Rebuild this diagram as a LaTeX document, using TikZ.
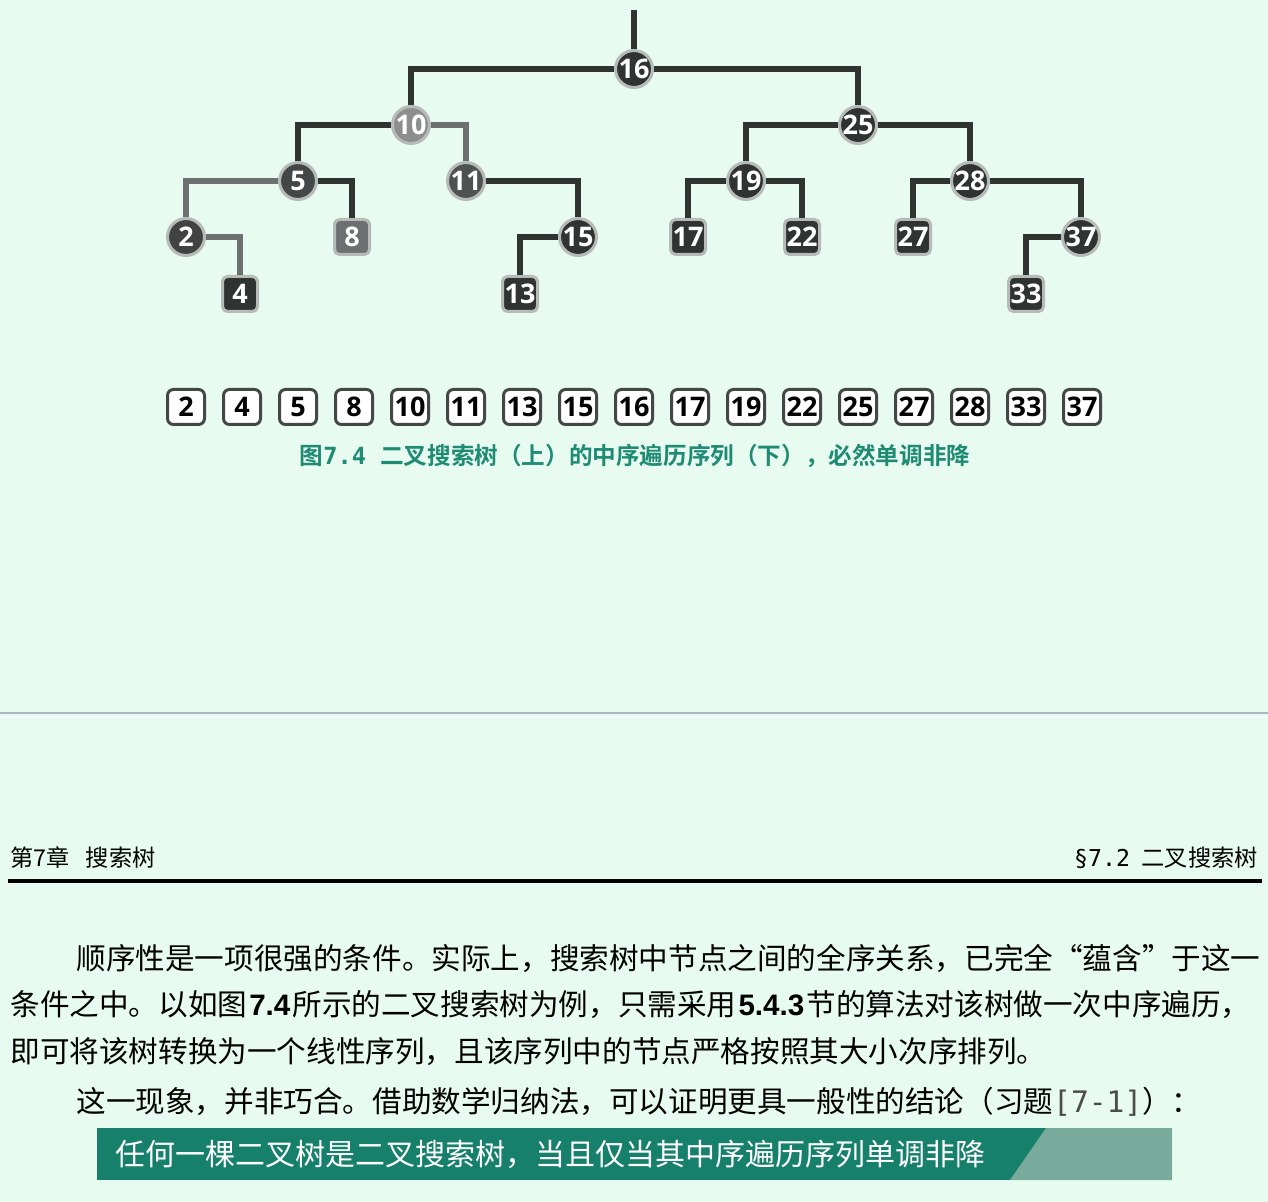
\documentclass[tikz,border=0pt]{standalone}
\usepackage{fontspec}
\setmainfont{Noto Sans CJK SC}[BoldFont={Noto Sans CJK SC Bold}]
\newfontfamily\cjk{Noto Sans CJK SC}[BoldFont={Noto Sans CJK SC Bold}]
\newfontfamily\numfont{Open Sans}
\newfontfamily\mono{DejaVu Sans Mono}
\newfontfamily\latn{Liberation Sans}
\definecolor{bg}{HTML}{E7FBF0}
\definecolor{ink}{HTML}{2F3332}
\definecolor{ring}{HTML}{B6BAB9}
\definecolor{teal}{HTML}{1F8B73}
\definecolor{banner}{HTML}{16806A}
\definecolor{bannertex}{HTML}{78AB9B}
\definecolor{sep}{HTML}{A8B9C6}
\tikzset{
  edge/.style={draw=ink, line width=2.6pt},
  edgelight/.style={draw=ink!70!white, line width=2.6pt},
  cnode/.style={circle, fill=ink, draw=ring, line width=1.5pt, minimum size=18.5pt,
     inner sep=0pt, text=white, font=\numfont\bfseries\fontsize{13.5}{13.5}\selectfont},
  snode/.style={rectangle, rounded corners=2.5pt, fill=ink, draw=ring, line width=1.5pt,
     minimum size=17.5pt, inner sep=0pt, text=white, font=\numfont\bfseries\fontsize{13.5}{13.5}\selectfont},
  seqbox/.style={rectangle, rounded corners=3pt, fill=white, draw=ink!90, line width=1.5pt,
     minimum width=18.5pt, minimum height=17.5pt, inner sep=0pt, text=black,
     font=\numfont\bfseries\fontsize{13.5}{13.5}\selectfont},
  body/.style={inner sep=0pt, font=\cjk\fontsize{14.8}{16}\selectfont, text=black},
}
\begin{document}
\begin{tikzpicture}[x=0.5pt,y=-0.5pt]
\fill[bg] (0,0) rectangle (1268,1202);
\useasboundingbox (0,0) rectangle (1268,1202);

% tree nodes
\coordinate (top) at (634,10);
\node[cnode] (n16) at (634,69) {16};
\node[cnode, fill=ink!55!white] (n10) at (411,125) {10};
\node[cnode] (n25) at (858,125) {25};
\node[cnode, fill=ink!90!white] (n5) at (298,181) {5};
\node[cnode, fill=ink!85!white] (n11) at (466,181) {11};
\node[cnode] (n19) at (746,181) {19};
\node[cnode] (n28) at (970,181) {28};
\node[cnode, fill=ink!92!white] (n2) at (186,237) {2};
\node[snode, fill=ink!70!white] (n8) at (352,237) {8};
\node[cnode] (n15) at (578,237) {15};
\node[snode] (n17) at (688,237) {17};
\node[snode] (n22) at (802,237) {22};
\node[snode] (n27) at (913,237) {27};
\node[cnode] (n37) at (1081,237) {37};
\node[snode] (n4) at (240,294) {4};
\node[snode] (n13) at (520,294) {13};
\node[snode] (n33) at (1026,294) {33};

% tree edges
\draw[edge] (top) -- (n16);
\draw[edge] (n16) -| (n10);
\draw[edge] (n16) -| (n25);
\draw[edge] (n10) -| (n5);
\draw[edgelight] (n10) -| (n11);
\draw[edgelight] (n5) -| (n2);
\draw[edge] (n5) -| (n8);
\draw[edgelight] (n2) -| (n4);
\draw[edge] (n11) -| (n15);
\draw[edge] (n15) -| (n13);
\draw[edge] (n25) -| (n19);
\draw[edge] (n25) -| (n28);
\draw[edge] (n19) -| (n17);
\draw[edge] (n19) -| (n22);
\draw[edge] (n28) -| (n27);
\draw[edge] (n28) -| (n37);
\draw[edge] (n37) -| (n33);

% in-order sequence
\foreach \v [count=\i from 0] in {2,4,5,8,10,11,13,15,16,17,19,22,25,27,28,33,37} {
  \node[seqbox] (s\i) at ({186+56*\i},407) {\v};
}

% caption
\node[inner sep=0pt, text=teal, font=\cjk\bfseries\fontsize{11.8}{12}\selectfont] (cap) at (635,456)
  {图{\mono\bfseries 7.4 }二叉搜索树（上）的中序遍历序列（下），必然单调非降};

% separator
\coordinate (sepL) at (0,713);
\coordinate (sepR) at (1268,713);
\draw[sep, line width=1.2pt] (sepL) -- (sepR);
\coordinate (sepL2) at (0,717);
\coordinate (sepR2) at (1268,717);
\draw[white!70!bg, line width=0.8pt] (sepL2) -- (sepR2);

% header
\node[inner sep=0pt, anchor=west, font=\cjk\fontsize{11.6}{12}\selectfont] (hl) at (10,858)
  {第7章\hspace{0.7em}搜索树};
\node[inner sep=0pt, anchor=east, font=\cjk\fontsize{11.6}{12}\selectfont] (hr) at (1258,858)
  {{\mono §7.2}\hspace{0.5em}二叉搜索树};
\coordinate (ruleL) at (8,881);
\coordinate (ruleR) at (1262,881);
\draw[black, line width=2pt] (ruleL) -- (ruleR);

% body text
\node[body, anchor=west] (l1) at (76,958)
  {顺序性是一项很强的条件。实际上，搜索树中节点之间的全序关系，已完全“蕴含”于这一};
\node[body, anchor=west] (l2) at (10,1005)
  {\hbox to 620pt{条件之中。以如图\hfil{\latn\bfseries 7.4}\hfil 所示的二叉搜索树为例，只需采用\hfil{\latn\bfseries 5.4.3}\hfil 节的算法对该树做一次中序遍历，}};
\node[body, anchor=west] (l3) at (10,1052)
  {即可将该树转换为一个线性序列，且该序列中的节点严格按照其大小次序排列。};
\node[body, anchor=west] (l4) at (76,1102)
  {这一现象，并非巧合。借助数学归纳法，可以证明更具一般性的结论（习题{\mono\color{black!70}[7-1]}）：};

% banner
\fill[banner] (97,1128) rectangle (1172,1180);
\fill[bannertex] (1010,1180) -- (1046,1128) -- (1172,1128) -- (1172,1180) -- cycle;
\node[inner sep=0pt, anchor=west, text=white, font=\cjk\fontsize{15}{16}\selectfont] (bt) at (115,1154)
  {任何一棵二叉树是二叉搜索树，当且仅当其中序遍历序列单调非降};
\end{tikzpicture}
\end{document}
